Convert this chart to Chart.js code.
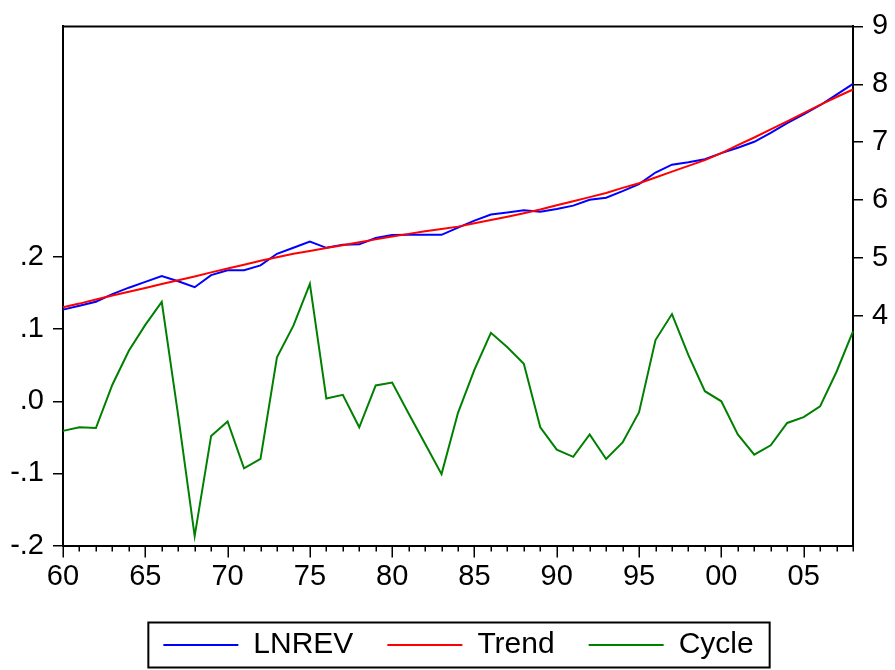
<!DOCTYPE html>
<html>
<head>
<meta charset="utf-8">
<script src="https://cdn.jsdelivr.net/npm/chart.js@4.4.0/dist/chart.umd.min.js"></script>
<style>
  html, body { margin: 0; padding: 0; background: #ffffff; }
  #wrap { width: 895px; height: 670px; position: relative; }
</style>
</head>
<body>
<div id="wrap"><canvas id="c" width="895" height="670"></canvas></div>
<script>
const years = [];
for (let y = 1960; y <= 2008; y++) years.push(y);

const lnrev = [4.106, 4.174, 4.243, 4.373, 4.485, 4.586, 4.688, 4.595, 4.493, 4.702,
               4.787, 4.787, 4.870, 5.071, 5.175, 5.283, 5.174, 5.229, 5.234, 5.342,
               5.396, 5.398, 5.401, 5.399, 5.524, 5.644, 5.750, 5.785, 5.822, 5.799,
               5.843, 5.903, 6.004, 6.040, 6.153, 6.275, 6.475, 6.611, 6.654, 6.704,
               6.810, 6.904, 7.006, 7.159, 7.330, 7.478, 7.638, 7.821, 8.007];

const trend = [4.147, 4.21, 4.28, 4.35, 4.415, 4.48, 4.55, 4.615, 4.68, 4.75,
               4.815, 4.88, 4.95, 5.01, 5.07, 5.12, 5.17, 5.22, 5.27, 5.32,
               5.37, 5.415, 5.46, 5.50, 5.54, 5.60, 5.655, 5.71, 5.77, 5.835,
               5.91, 5.98, 6.05, 6.12, 6.21, 6.29, 6.39, 6.49, 6.59, 6.69,
               6.81, 6.95, 7.08, 7.22, 7.36, 7.50, 7.645, 7.78, 7.91];

const cycle = [-0.041, -0.036, -0.037, 0.023, 0.070, 0.106, 0.138, -0.020, -0.187, -0.048,
               -0.028, -0.093, -0.080, 0.061, 0.105, 0.163, 0.004, 0.009, -0.036, 0.022,
               0.026, -0.017, -0.059, -0.101, -0.016, 0.044, 0.095, 0.075, 0.052, -0.036,
               -0.067, -0.077, -0.046, -0.080, -0.057, -0.015, 0.085, 0.121, 0.064, 0.014,
               0.000, -0.046, -0.074, -0.061, -0.030, -0.022, -0.007, 0.041, 0.097];

const leftTicks = [-0.2, -0.1, 0.0, 0.1, 0.2];
const rightTicks = [4, 5, 6, 7, 8, 9];
const seriesNames = ['LNREV', 'Trend', 'Cycle'];
const seriesColors = ['#0000ff', '#ff0000', '#008000'];

const FONT = "'Liberation Sans', Arial, sans-serif";

const framePlugin = {
  id: 'framePlugin',
  afterDraw(chart) {
    const { ctx, chartArea: a, scales } = chart;
    const x = scales.x;
    ctx.save();
    ctx.strokeStyle = '#000';
    ctx.lineCap = 'butt';
    ctx.lineWidth = 1.5;
    years.forEach((yr, i) => {
      const px = Math.round(x.getPixelForValue(i)) + 0.25;
      const len = (yr % 5 === 0) ? 12 : 6;
      ctx.beginPath();
      ctx.moveTo(px, a.bottom);
      ctx.lineTo(px, a.bottom + len);
      ctx.stroke();
    });
    ctx.lineWidth = 2;
    ctx.beginPath();
    ctx.moveTo(a.left - 1, a.top);
    ctx.lineTo(a.right, a.top);
    ctx.stroke();
    const lg = chart.legend;
    if (lg && lg.legendHitBoxes && lg.legendHitBoxes.length) {
      const hb = lg.legendHitBoxes;
      let l = Infinity, r = -Infinity, t = Infinity, b = -Infinity;
      hb.forEach(h => {
        l = Math.min(l, h.left); r = Math.max(r, h.left + h.width);
        t = Math.min(t, h.top); b = Math.max(b, h.top + h.height);
      });
      const cy = (t + b) / 2;
      ctx.lineWidth = 2;
      ctx.strokeRect(l - 15, cy - 22.5, (r - l) + 31, 45);
    }
    ctx.restore();
  }
};

new Chart(document.getElementById('c'), {
  type: 'line',
  data: {
    labels: years,
    datasets: [
      { label: seriesNames[0], data: lnrev, yAxisID: 'yR', borderColor: seriesColors[0], backgroundColor: seriesColors[0], borderWidth: 2, pointRadius: 0, tension: 0, order: 1 },
      { label: seriesNames[1], data: trend, yAxisID: 'yR', borderColor: seriesColors[1], backgroundColor: seriesColors[1], borderWidth: 2, pointRadius: 0, tension: 0, order: 0 },
      { label: seriesNames[2], data: cycle, yAxisID: 'yL', borderColor: seriesColors[2], backgroundColor: seriesColors[2], borderWidth: 2, pointRadius: 0, tension: 0, order: 2 }
    ]
  },
  options: {
    responsive: false,
    animation: false,
    devicePixelRatio: 1,
    layout: { padding: { top: 25, left: 0, right: -22, bottom: 0 } },
    plugins: {
      tooltip: { enabled: false },
      legend: {
        position: 'bottom',
        labels: {
          usePointStyle: true,
          pointStyleWidth: 75,
          pointStyle: 'line',
          boxWidth: 75,
          padding: 34,
          color: '#000',
          font: { family: FONT, size: 30 },
          sort: (a, b) => a.datasetIndex - b.datasetIndex
        }
      }
    },
    scales: {
      x: {
        type: 'category',
        offset: false,
        grid: { display: false, drawTicks: false },
        border: { display: true, color: '#000', width: 2 },
        ticks: {
          autoSkip: false,
          maxRotation: 0,
          minRotation: 0,
          padding: 14,
          color: '#000',
          font: { family: FONT, size: 29 },
          callback: function (val, idx) {
            const yr = years[idx];
            return (yr % 5 === 0) ? String(yr).slice(2) : '';
          }
        },
        afterFit: s => { s.height = 50.5; }
      },
      yL: {
        type: 'linear',
        position: 'left',
        min: -0.2,
        max: 0.52,
        afterBuildTicks: s => { s.ticks = leftTicks.map(v => ({ value: v })); },
        grid: { drawOnChartArea: false, drawTicks: true, tickLength: 10, color: '#000', lineWidth: 1.5 },
        border: { display: true, color: '#000', width: 2 },
        ticks: {
          padding: 9,
          color: '#000',
          font: { family: FONT, size: 29 },
          callback: v => {
            const r = Math.round(v * 10);
            if (r === 0) return '.0';
            return (r < 0 ? '-' : '') + '.' + Math.abs(r);
          }
        },
        afterFit: s => { s.width = 63; }
      },
      yR: {
        type: 'linear',
        position: 'right',
        min: 0.03,
        max: 9,
        afterBuildTicks: s => { s.ticks = rightTicks.map(v => ({ value: v })); },
        grid: { drawOnChartArea: false, drawTicks: true, tickLength: 10, color: '#000', lineWidth: 1.5 },
        border: { display: true, color: '#000', width: 2 },
        ticks: {
          padding: 9,
          color: '#000',
          font: { family: FONT, size: 29 },
          callback: v => String(v)
        },
        afterFit: s => { s.width = 64; }
      }
    }
  },
  plugins: [framePlugin]
});
</script>
</body>
</html>
